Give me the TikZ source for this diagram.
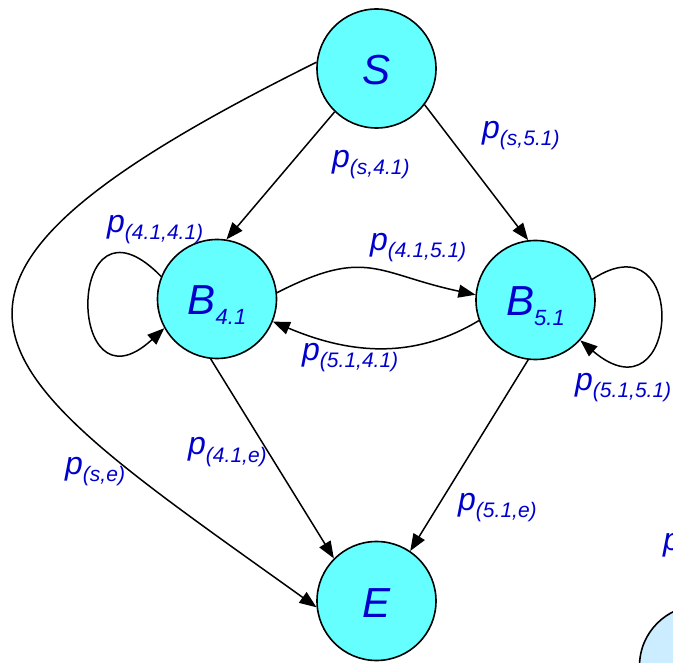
\documentclass[tikz,border=0pt]{standalone}
\usepackage{fontspec}
\setmainfont{Liberation Sans}
\usepackage{xcolor}
\usetikzlibrary{arrows.meta}

\definecolor{stfill}{HTML}{66FFFF}
\definecolor{pale}{HTML}{CCECFF}
\definecolor{txtblue}{RGB}{0,0,204}

\newcommand{\nodefont}{\fontsize{42}{42}\selectfont\itshape}
\newcommand{\probfont}{\fontsize{32}{32}\selectfont\itshape}
\newcommand{\stsub}[2]{#1\raisebox{-10pt}{\fontsize{22}{22}\selectfont #2}}
\newcommand{\prob}[1]{p\raisebox{-7pt}{\fontsize{21}{21}\selectfont (#1)}}

\begin{document}
\begin{tikzpicture}[x=1pt, y=-1pt,
  state/.style={circle, draw=black, line width=1.6pt, fill=stfill, minimum size=119pt,
    inner sep=0pt, text=txtblue, font=\nodefont, text height=32pt, text depth=0pt},
  ghost/.style={circle, draw=black, line width=1.6pt, fill=pale, minimum size=121pt},
  lab/.style={anchor=base west, inner sep=0pt, text=txtblue, font=\probfont},
  arr/.style={-{Triangle[length=17pt, width=13pt]}, line width=1.5pt}
]
  \useasboundingbox (0,0) rectangle (673,663);
  \clip (0,0) rectangle (673,663);

  \node[state] (S)   at (376.5, 68.5) {S};
  \node[state] (B41) at (217,   299)  {\stsub{B}{4.1}};
  \node[state] (B51) at (535.5, 300)  {\stsub{B}{5.1}};
  \node[state] (E)   at (376.5, 601)  {E};
  \node[ghost] (F)   at (700,   666)  {};

  \draw[arr] (S.174) .. controls (-151,294) and (-19,367) .. (E.186);
  \draw[arr] (S.226)  -- (B41.81);
  \draw[arr] (S.-37)  -- (B51.97);
  \draw[arr] (B41.6)  .. controls (367,246.7) and (376.6,273.7) .. (B51.175);
  \draw[arr] (B51.200) .. controls (410,362) and (345,352) .. (B41.338);
  \draw[arr] (B41.158) .. controls (65,178) and (65,420) .. (B41.209);
  \draw[arr] (B51.20)  .. controls (690,215) and (680,425) .. (B51.-42);
  \draw[arr] (B41.-96) -- (E.135);
  \draw[arr] (B51.-97) -- (E.56);

  \node[lab] (pS41)   at (332, 168) {\prob{s,4.1}};
  \node[lab] (pS51)   at (482, 139) {\prob{s,5.1}};
  \node[lab] (p4141)  at (107, 233) {\prob{4.1,4.1}};
  \node[lab] (p4151)  at (370, 251) {\prob{4.1,5.1}};
  \node[lab] (p5141)  at (302, 361) {\prob{5.1,4.1}};
  \node[lab] (p5151)  at (575, 391) {\prob{5.1,5.1}};
  \node[lab] (pSE)    at (65,  475) {\prob{s,e}};
  \node[lab] (p41E)   at (188, 455) {\prob{4.1,e}};
  \node[lab] (p51E)   at (458, 510) {\prob{5.1,e}};
  \node[lab] (pF)     at (663, 550) {p};
\end{tikzpicture}
\end{document}
